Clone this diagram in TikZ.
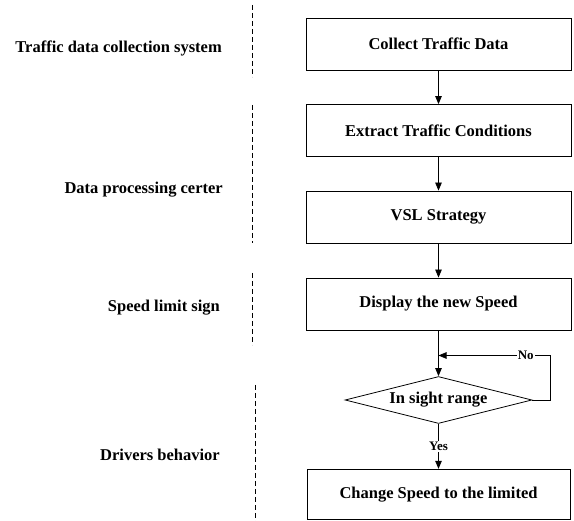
\documentclass[tikz,border=0pt]{standalone}
\usepackage{fontspec}
\setmainfont{Liberation Serif}
\usetikzlibrary{shapes.geometric, arrows.meta}
\tikzstyle{process} = [rectangle, minimum width=265pt, minimum height=52pt, text centered, draw=black, line width=0.8pt, font=\fontsize{16.5}{19}\selectfont\bfseries]
\tikzstyle{decision} = [diamond, aspect=4, inner sep=0pt, minimum width=187pt, minimum height=47pt, text centered, draw=black, line width=0.8pt, font=\fontsize{16.5}{19}\selectfont\bfseries]
\tikzstyle{side} = [anchor=east, inner sep=0pt, font=\fontsize{16.5}{19}\selectfont\bfseries]
\tikzstyle{lbl} = [fill=white, inner sep=1pt, font=\fontsize{13}{15}\selectfont\bfseries]
\tikzstyle{arrow} = [line width=0.8pt,-{Triangle[length=8pt,width=6.5pt]}]
\tikzstyle{sep} = [line width=0.6pt, dash pattern=on 5pt off 3pt]

\begin{document}
\begin{tikzpicture}[node distance=86.5pt]
\useasboundingbox (0,0) rectangle (574pt,-521pt);

\node (collect) [process] at (438.5pt,-44pt) {Collect Traffic Data};
\node (extract) [process, below of=collect] {Extract Traffic Conditions};
\node (vsl) [process, below of=extract] {VSL Strategy};
\node (display) [process, below of=vsl, yshift=-0.5pt] {Display the new Speed};
\node (decide) [decision, below of=display, yshift=-9.5pt] {In sight range};
\node (change) [process, below of=decide, yshift=-8pt, minimum width=263pt, minimum height=50.5pt] {Change Speed to the limited};
\coordinate [below of=display, node distance=51.5pt] (join);

%left side
\node (tdcs) [side] at (222pt,-48pt) {Traffic data collection system};
\node (dpc) [side] at (223pt,-190pt) {Data processing certer};
\node (sls) [side] at (220pt,-308pt) {Speed limit sign};
\node (drv) [side] at (220pt,-455pt) {Drivers behavior};

\draw [sep] (252pt,-5pt) -- (252pt,-77pt);
\draw [sep] (252pt,-105pt) -- (252pt,-243pt);
\draw [sep] (252pt,-273pt) -- (252pt,-345pt);
\draw [sep] (255pt,-385pt) -- (255pt,-521pt);

\draw [arrow] (collect) -- (extract);
\draw [arrow] (extract) -- (vsl);
\draw [arrow] (vsl) -- (display);
\draw [arrow] (display) -- (decide);
\draw [arrow] (decide) -- node[lbl] {Yes} (change);
\draw [arrow] (decide.east) -- ++(18pt,0) |- node[lbl, pos=0.61] {No} (join);

\end{tikzpicture}
\end{document}
